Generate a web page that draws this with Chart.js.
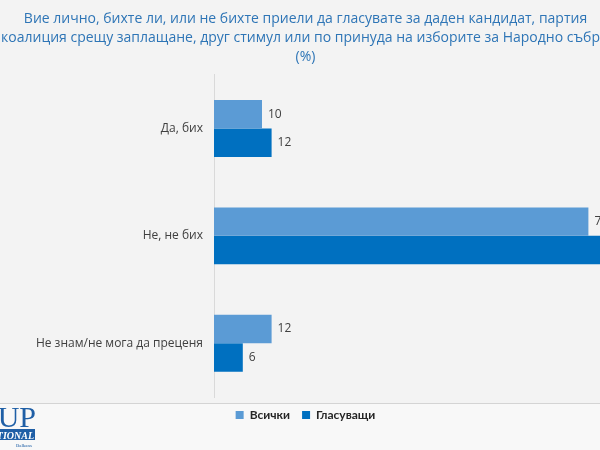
<!DOCTYPE html>
<html>
<head>
<meta charset="utf-8">
<script src="https://cdn.jsdelivr.net/npm/chart.js@4"></script>
<style>
  html, body { margin: 0; padding: 0; background: #f3f3f3; overflow: hidden; }
  #wrap { position: absolute; left: -35px; top: 0; width: 700px; height: 450px; }
</style>
</head>
<body>
<div id="wrap"><canvas id="chart" width="700" height="450"></canvas></div>
<script>
    // data
    const categories = ['Да, бих', 'Не, не бих', 'Не знам/не мога да преценя'];
    const allValues = [10, 78, 12];
    const voterValues = [12, 82, 6];
    const seriesNames = ['Всички', 'Гласуващи'];
    const titleLines = [
        'Вие лично, бихте ли, или не бихте приели да гласувате за даден кандидат, партия',
        'или коалиция срещу заплащане, друг стимул или по принуда на изборите за Народно събрание?',
        '(%)'
    ];

    // value labels at the end of each bar
    const barLabels = {
        id: 'barLabels',
        afterDatasetsDraw(chart) {
            const ctx = chart.ctx;
            ctx.save();
            ctx.font = '12px "Open Sans", sans-serif';
            ctx.fillStyle = '#404040';
            ctx.textAlign = 'left';
            ctx.textBaseline = 'middle';
            chart.data.datasets.forEach((ds, i) => {
                chart.getDatasetMeta(i).data.forEach((bar, j) => {
                    ctx.fillText(ds.data[j], bar.x + 6, bar.y);
                });
            });
            ctx.restore();
        }
    };

    // slide separator line and cropped logo
    const slideDecor = {
        id: 'slideDecor',
        beforeDraw(chart) {
            const ctx = chart.ctx;
            ctx.save();
            ctx.fillStyle = '#f8f8f8';
            ctx.fillRect(0, 404, chart.width, 46);
            ctx.strokeStyle = '#d4d4d4';
            ctx.lineWidth = 1;
            ctx.beginPath();
            ctx.moveTo(0, 403.5);
            ctx.lineTo(chart.width, 403.5);
            ctx.stroke();
            // logo
            ctx.fillStyle = '#1f5fa6';
            ctx.font = '30px "Liberation Serif", serif';
            ctx.textAlign = 'right';
            ctx.textBaseline = 'alphabetic';
            ctx.fillText('GALLUP', 71, 427);
            ctx.fillRect(0, 429, 70, 11);
            ctx.fillStyle = '#ffffff';
            ctx.font = 'italic bold 10px "Liberation Serif", serif';
            ctx.fillText('INTERNATIONAL', 69, 438.5);
            ctx.fillStyle = '#1f5fa6';
            ctx.font = '5px "Liberation Serif", serif';
            ctx.fillText('Balkans', 67, 447);
            ctx.restore();
        }
    };

    new Chart(document.getElementById('chart'), {
        type: 'bar',
        data: {
            labels: categories,
            datasets: [
                {
                    label: seriesNames[0],
                    data: allValues,
                    backgroundColor: '#5b9bd5',
                    categoryPercentage: 0.53,
                    barPercentage: 1
                },
                {
                    label: seriesNames[1],
                    data: voterValues,
                    backgroundColor: '#0070c0',
                    categoryPercentage: 0.53,
                    barPercentage: 1
                }
            ]
        },
        options: {
            indexAxis: 'y',
            responsive: false,
            animation: false,
            layout: {
                padding: { left: 0, right: 19, top: 0, bottom: 19 }
            },
            plugins: {
                title: {
                    display: true,
                    text: titleLines,
                    color: '#2e75b6',
                    font: { family: 'Open Sans', size: 14, weight: 'normal', lineHeight: 1.35 },
                    padding: { top: 10, bottom: 8 }
                },
                legend: {
                    position: 'bottom',
                    labels: {
                        color: '#262626',
                        font: { family: 'Lato', size: 12, weight: 'bold' },
                        boxWidth: 8,
                        boxHeight: 8,
                        padding: 12
                    }
                },
                tooltip: { enabled: false }
            },
            scales: {
                x: {
                    min: 0,
                    max: 90,
                    display: false
                },
                y: {
                    grid: { display: false, drawTicks: false },
                    border: { display: true, color: '#d9d9d9' },
                    ticks: {
                        color: '#404040',
                        font: { family: 'Open Sans', size: 12 },
                        padding: 11
                    },
                    afterFit(scale) {
                        scale.width = 249;
                    }
                }
            }
        },
        plugins: [barLabels, slideDecor]
    });
</script>
</body>
</html>
